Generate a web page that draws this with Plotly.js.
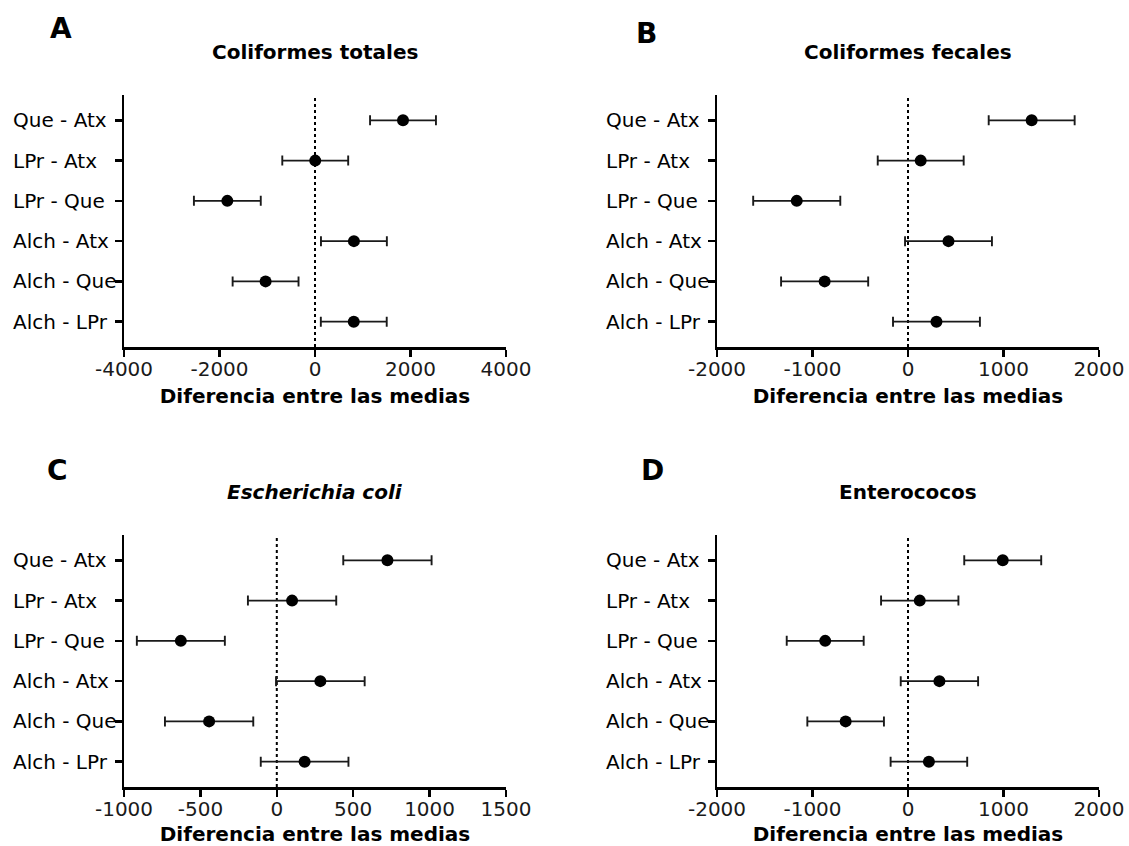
<!DOCTYPE html>
<html>
<head>
<meta charset="utf-8">
<script src="https://cdn.plot.ly/plotly-3.0.1.min.js"></script>
<style>
html,body{margin:0;padding:0;background:#fff;}
#chart{width:1129px;height:846px;}
</style>
</head>
<body>
<div id="chart"></div>
<script>
// Comparisons (top to bottom)
var comparisons = ["Que - Atx", "LPr - Atx ", "LPr - Que", "Alch - Atx", "Alch - Que", "Alch - LPr"];

// Panel A: Coliformes totales
var meansA = [1843, 5, -1836, 815, -1035, 812];
var ciA = [690, 690, 700, 690, 690, 690];
// Panel B: Coliformes fecales
var meansB = [1295, 133, -1165, 424, -873, 298];
var ciB = [450, 450, 456, 455, 456, 455];
// Panel C: Escherichia coli
var meansC = [724, 100, -628, 285, -443, 182];
var ciC = [289, 289, 288, 290, 289, 287];
// Panel D: Enterococos
var meansD = [992, 123, -867, 329, -653, 219];
var ciD = [403, 405, 403, 405, 401, 401];

var titles = ["Coliformes totales", "Coliformes fecales", "<i>Escherichia coli</i>", "Enterococos"];
var letters = ["A", "B", "C", "D"];
var xTitle = "Diferencia entre las medias";

var tickValsA = [-4000, -2000, 0, 2000, 4000];
var tickTextA = ["-4000", "-2000", "0", "2000", "4000"];
var tickValsB = [-2000, -1000, 0, 1000, 2000];
var tickTextB = ["-2000", "-1000", "0", "1000", "2000"];
var tickValsC = [-1000, -500, 0, 500, 1000, 1500];
var tickTextC = ["-1000", "-500", "0", "500", "1000", "1500"];
var tickValsD = [-2000, -1000, 0, 1000, 2000];
var tickTextD = ["-2000", "-1000", "0", "1000", "2000"];

var FONT = "DejaVu Sans, Verdana, sans-serif";
var W = 1129, H = 846;

var panels = [
  {m: meansA, e: ciA, tv: tickValsA, tt: tickTextA, range: [-4000, 4000], x0: 124, x1: 506, yTop: 95, yBot: 347, letterX: 61, letterY: 29},
  {m: meansB, e: ciB, tv: tickValsB, tt: tickTextB, range: [-2000, 2000], x0: 717, x1: 1099, yTop: 95, yBot: 347, letterX: 646, letterY: 33},
  {m: meansC, e: ciC, tv: tickValsC, tt: tickTextC, range: [-1000, 1500], x0: 124, x1: 506, yTop: 535, yBot: 787, letterX: 58, letterY: 470},
  {m: meansD, e: ciD, tv: tickValsD, tt: tickTextD, range: [-2000, 2000], x0: 717, x1: 1099, yTop: 535, yBot: 787, letterX: 652, letterY: 470}
];

var data = [];
var layout = {
  width: W, height: H,
  margin: {l: 0, r: 0, t: 0, b: 0},
  paper_bgcolor: "#fff", plot_bgcolor: "#fff",
  showlegend: false,
  font: {family: FONT, color: "#000", size: 20},
  shapes: [], annotations: []
};

panels.forEach(function (p, i) {
  var n = i + 1;
  var xa = "x" + (n === 1 ? "" : n), ya = "y" + (n === 1 ? "" : n);
  var xk = "xaxis" + (n === 1 ? "" : n), yk = "yaxis" + (n === 1 ? "" : n);
  data.push({
    type: "scatter", mode: "markers",
    x: p.m, y: comparisons,
    xaxis: xa, yaxis: ya,
    marker: {color: "#000", size: 12, symbol: "circle"},
    error_x: {type: "data", array: p.e, visible: true, color: "#1a1a1a", thickness: 1.9, width: 5},
    hoverinfo: "x+y"
  });
  layout[xk] = {
    domain: [p.x0 / W, p.x1 / W],
    anchor: ya,
    range: p.range,
    tickmode: "array", tickvals: p.tv, ticktext: p.tt,
    showgrid: false, zeroline: false,
    showline: true, linecolor: "#000", linewidth: 2.5,
    ticks: "outside", ticklen: 7, tickwidth: 2.5, tickcolor: "#000",
    ticklabelstandoff: -5,
    tickfont: {family: FONT, size: 20, color: "#1a1a1a"},
    title: {text: "<b>" + xTitle + "</b>", font: {family: FONT, size: 20, color: "#000"}, standoff: 10},
    fixedrange: true
  };
  layout[yk] = {
    domain: [1 - p.yBot / H, 1 - p.yTop / H],
    anchor: xa,
    type: "category",
    categoryorder: "array", categoryarray: comparisons,
    range: [5.63, -0.63],
    showgrid: false, zeroline: false,
    showline: true, linecolor: "#000", linewidth: 2.5,
    ticks: "outside", ticklen: 7, tickwidth: 2.5, tickcolor: "#000",
    showticklabels: false,
    fixedrange: true
  };
  // dotted zero line
  layout.shapes.push({
    type: "line", xref: xa, yref: ya + " domain",
    x0: 0, x1: 0, y0: 0, y1: 1,
    line: {color: "#000", width: 2, dash: "dot"}, layer: "below"
  });
  // left-aligned category labels
  comparisons.forEach(function (c) {
    layout.annotations.push({
      xref: xa + " domain", yref: ya,
      x: -0.296, y: c, xanchor: "left", yanchor: "middle",
      text: c, showarrow: false,
      font: {family: FONT, size: 20, color: "#000"}
    });
  });
  // panel title
  layout.annotations.push({
    xref: xa + " domain", yref: "paper",
    x: 0.5, y: 1 - (p.yTop - 43) / H, xanchor: "center", yanchor: "middle",
    text: "<b>" + titles[i] + "</b>", showarrow: false,
    font: {family: FONT, size: 20, color: "#000"}
  });
  // panel letter
  layout.annotations.push({
    xref: "paper", yref: "paper",
    x: p.letterX / W, y: 1 - p.letterY / H, xanchor: "center", yanchor: "middle",
    text: "<b>" + letters[i] + "</b>", showarrow: false,
    font: {family: FONT, size: 28, color: "#000"}
  });
});

Plotly.newPlot("chart", data, layout, {displayModeBar: false, staticPlot: true});
</script>
</body>
</html>
